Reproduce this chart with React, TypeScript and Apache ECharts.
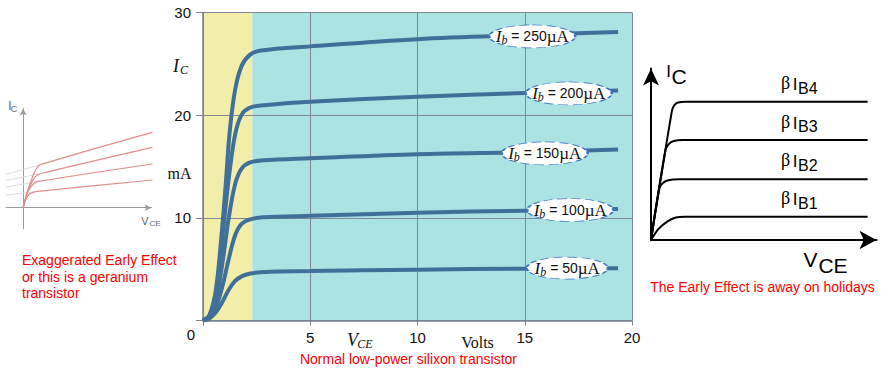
import React, { useEffect, useRef } from 'react';
import * as echarts from 'echarts';

// ---------- Main chart: normal low-power silicon transistor ----------
const vceTicks = [0, 5, 10, 15, 20];
const icTicks = [0, 10, 20, 30];
const baseCurrents = [250, 200, 150, 100, 50];
const ic250 = [[0, 0], [0.3, 0.5], [0.6, 3], [0.85, 8], [1.05, 13], [1.25, 18.5], [1.5, 22.5], [1.8, 24.8], [2.2, 25.9], [2.7, 26.3], [5, 26.7], [10, 27.4], [15, 27.8], [19.35, 28.1]];
const ic200 = [[0, 0], [0.3, 0.5], [0.6, 2.7], [0.85, 7], [1.05, 11], [1.3, 15.5], [1.55, 18.6], [1.85, 20.2], [2.3, 20.8], [3, 21.0], [5, 21.3], [10, 21.8], [15, 22.15], [19.35, 22.4]];
const ic150 = [[0, 0], [0.3, 0.4], [0.6, 2], [0.9, 5.5], [1.2, 10], [1.5, 13.3], [1.8, 14.8], [2.2, 15.4], [2.8, 15.6], [5, 15.8], [10, 16.2], [15, 16.4], [19.35, 16.65]];
const ic100 = [[0, 0], [0.3, 0.3], [0.6, 1.3], [0.9, 3.3], [1.2, 6], [1.5, 8.3], [1.8, 9.4], [2.2, 9.85], [2.8, 10.05], [5, 10.2], [10, 10.5], [15, 10.7], [19.35, 10.85]];
const ic50 = [[0, 0], [0.3, 0.2], [0.6, 0.8], [0.9, 1.8], [1.2, 3.0], [1.5, 3.85], [1.8, 4.3], [2.2, 4.58], [2.8, 4.72], [3.5, 4.78], [5, 4.82], [10, 4.95], [15, 5.05], [19.35, 5.1]];
const labelAnchors = [[15.35, 27.67], [17.05, 22.12], [15.93, 16.28], [17.12, 10.76], [16.98, 5.11]];
const saturationRegion = [0, 2.3];
const activeRegion = [2.3, 20];

// ---------- Left sketch: exaggerated Early effect ----------
const early1 = [[0, 0], [0.35, 1.3], [0.75, 2.4], [1.05, 3.0], [1.35, 3.25], [9.8, 5.66]];
const early2 = [[0, 0], [0.3, 1.1], [0.65, 1.9], [0.95, 2.35], [1.3, 2.55], [9.8, 4.53]];
const early3 = [[0, 0], [0.25, 0.9], [0.5, 1.45], [0.8, 1.8], [1.15, 1.97], [9.8, 3.28]];
const early4 = [[0, 0], [0.2, 0.6], [0.45, 1.0], [0.75, 1.15], [1.1, 1.22], [9.8, 2.08]];
const ghost1 = [[-1.3, 2.5], [1.35, 3.25]];
const ghost2 = [[-1.3, 2.05], [1.3, 2.55]];
const ghost3 = [[-1.3, 1.55], [1.15, 1.97]];
const ghost4 = [[-1.3, 0.95], [1.1, 1.22]];

// ---------- Right sketch: ideal (no Early effect) ----------
const ideal4 = [[0, 0], [0.97, 7.2], [1.08, 7.5], [1.25, 7.64], [1.6, 7.68], [10, 7.68]];
const ideal3 = [[0, 0], [0.67, 5.0], [0.82, 5.33], [1.05, 5.5], [1.45, 5.56], [10, 5.56]];
const ideal2 = [[0, 0], [0.39, 2.89], [0.55, 3.17], [0.8, 3.32], [1.3, 3.37], [10, 3.37]];
const ideal1 = [[0, 0], [0.35, 0.62], [0.75, 1.02], [1.15, 1.25], [1.6, 1.29], [10, 1.29]];
const idealLabels = ['B4', 'B3', 'B2', 'B1'];

const txt = (x: number, y: number, text: string, font: string, fill: string, align = 'center', vAlign = 'middle') => ({
  type: 'text',
  x,
  y,
  silent: true,
  style: { text, font, fill, textAlign: align, textVerticalAlign: vAlign, align, verticalAlign: vAlign },
});

export default function App() {
  const ref = useRef<HTMLDivElement>(null);
  useEffect(() => {
    const chart = echarts.init(ref.current!, null, { renderer: 'svg' });
    const blue = '#40709a';
    const gridGrey = '#7f8894';
    const ellipse = 'path://M50,0 C77.6,0 100,22.4 100,50 C100,77.6 77.6,100 50,100 C22.4,100 0,77.6 0,50 C0,22.4 22.4,0 50,0 Z';
    const mainCurves = [ic250, ic200, ic150, ic100, ic50];
    const earlyCurves = [early1, early2, early3, early4];
    const ghosts = [ghost1, ghost2, ghost3, ghost4];
    const idealCurves = [ideal4, ideal3, ideal2, ideal1];
    const labelRowsY = [84.7, 123, 161.3, 199.3];

    const hiddenAxisBits = { axisTick: { show: false }, axisLabel: { show: false }, splitLine: { show: false } };

    const option: any = {
      animation: false,
      backgroundColor: '#ffffff',
      grid: [
        { left: 203, top: 12.5, width: 429, height: 308, outerBoundsMode: 'none' },
        { left: 6, top: 108.5, width: 145.5, height: 120.5, outerBoundsMode: 'none' },
        { left: 651, top: 68.5, width: 225.5, height: 171.5, outerBoundsMode: 'none' },
      ],
      xAxis: [
        {
          gridIndex: 0, type: 'value', min: vceTicks[0], max: vceTicks[vceTicks.length - 1], interval: 5, z: 3,
          axisLine: { show: true, onZero: false, lineStyle: { color: '#7a8290', width: 1.5 } },
          axisTick: { show: true, length: 5, lineStyle: { color: '#7a8290' } },
          axisLabel: { margin: 9, fontSize: 15, color: '#111', fontFamily: 'Liberation Sans', formatter: (v: number) => (v === 0 ? '' : String(v)) },
          splitLine: { show: true, lineStyle: { color: gridGrey, width: 1 } },
        },
        {
          gridIndex: 1, type: 'value', min: -1.3, max: 9.73,
          axisLine: { show: true, onZero: true, symbol: ['none', 'arrow'], symbolSize: [5, 7], lineStyle: { color: '#9a9a9a', width: 1 } },
          ...hiddenAxisBits,
        },
        {
          gridIndex: 2, type: 'value', min: 0, max: 10.41,
          axisLine: { show: true, onZero: true, symbol: ['none', 'arrow'], symbolSize: [14, 17], lineStyle: { color: '#000', width: 2 } },
          ...hiddenAxisBits,
        },
      ],
      yAxis: [
        {
          gridIndex: 0, type: 'value', min: icTicks[0], max: icTicks[icTicks.length - 1], interval: 10, z: 3,
          axisLine: { show: true, onZero: false, lineStyle: { color: '#7a8290', width: 1.5 } },
          axisTick: { show: true, length: 7, lineStyle: { color: '#7a8290' } },
          axisLabel: { margin: 12, fontSize: 15, color: '#111', fontFamily: 'Liberation Sans', formatter: (v: number) => (v === 0 ? '' : String(v)) },
          splitLine: { show: true, lineStyle: { color: gridGrey, width: 1 } },
        },
        {
          gridIndex: 1, type: 'value', min: -1.6, max: 7.45,
          axisLine: { show: true, onZero: true, symbol: ['none', 'arrow'], symbolSize: [5, 7], lineStyle: { color: '#9a9a9a', width: 1 } },
          ...hiddenAxisBits,
        },
        {
          gridIndex: 2, type: 'value', min: 0, max: 9.53,
          axisLine: { show: true, onZero: true, symbol: ['none', 'arrow'], symbolSize: [12, 17], lineStyle: { color: '#000', width: 2 } },
          ...hiddenAxisBits,
        },
      ],
      series: [
        {
          type: 'line', xAxisIndex: 0, yAxisIndex: 0, data: [], z: 1, silent: true,
          markArea: {
            silent: true,
            itemStyle: { opacity: 1 },
            data: [
              [{ xAxis: saturationRegion[0], itemStyle: { color: '#f2eeaa' } }, { xAxis: saturationRegion[1] }],
              [{ xAxis: activeRegion[0], itemStyle: { color: '#abe2e2' } }, { xAxis: activeRegion[1] }],
            ],
          },
        },
        ...mainCurves.map((d) => ({
          type: 'line', xAxisIndex: 0, yAxisIndex: 0, data: d, z: 5, showSymbol: false, smooth: 0.35, silent: true,
          lineStyle: { color: blue, width: 4, cap: 'butt' },
        })),
        {
          type: 'scatter', xAxisIndex: 0, yAxisIndex: 0, z: 6, silent: true,
          symbol: ellipse,
          data: labelAnchors.map((p, i) => ({ value: p, symbolSize: i === 4 ? [81, 22] : [86, 23] })),
          itemStyle: { color: '#ffffff', borderColor: '#3b74c0', borderWidth: 1.3, borderType: 'dashed', opacity: 1 },
          label: {
            show: true, position: 'inside',
            formatter: (p: any) => `{i|I}{s|b}{t| = ${baseCurrents[p.dataIndex]}}{u|µA}`,
            rich: {
              i: { fontFamily: 'Liberation Serif', fontStyle: 'italic', fontSize: 17, color: '#111' },
              s: { fontFamily: 'Liberation Serif', fontStyle: 'italic', fontSize: 12, color: '#111', padding: [8, 0, 0, 0] },
              t: { fontFamily: 'Liberation Sans', fontSize: 14, color: '#111' },
              u: { fontFamily: 'Liberation Serif', fontSize: 17, color: '#111' },
            },
          },
        },
        ...ghosts.map((d) => ({
          type: 'line', xAxisIndex: 1, yAxisIndex: 1, data: d, showSymbol: false, silent: true, clip: false,
          lineStyle: { color: '#dedede', width: 1 },
        })),
        ...earlyCurves.map((d) => ({
          type: 'line', xAxisIndex: 1, yAxisIndex: 1, data: d, showSymbol: false, smooth: 0.3, silent: true, clip: false,
          lineStyle: { color: '#e08c8c', width: 1.2 },
        })),
        ...idealCurves.map((d) => ({
          type: 'line', xAxisIndex: 2, yAxisIndex: 2, data: d, showSymbol: false, smooth: 0.3, silent: true, clip: false,
          lineStyle: { color: '#000', width: 2 },
        })),
      ],
      graphic: [
        // main chart texts
        txt(191, 334, '0', '15px "Liberation Sans"', '#111'),
        txt(176, 66, 'I', 'italic 18px "Liberation Serif"', '#111'),
        txt(184, 70, 'C', 'italic 12px "Liberation Serif"', '#111'),
        txt(179.5, 173, 'mA', '16px "Liberation Serif"', '#111'),
        txt(352.5, 339.7, 'V', 'italic 18px "Liberation Serif"', '#111'),
        txt(365, 344, 'CE', 'italic 12px "Liberation Serif"', '#111'),
        txt(477.5, 342, 'Volts', '16px "Liberation Serif"', '#111'),
        txt(408.5, 359, 'Normal low-power silixon transistor', '14px "Liberation Sans"', '#ff0000'),
        // left sketch texts
        txt(10, 106, 'I', '12px "Liberation Sans"', '#666'),
        txt(14, 108.5, 'C', '9px "Liberation Sans"', '#666'),
        txt(145, 221, 'V', '11px "Liberation Sans"', '#666'),
        txt(149.5, 223.5, 'CE', '8px "Liberation Sans"', '#666', 'left'),
        txt(22, 260, 'Exaggerated Early Effect', '14px "Liberation Sans"', '#ff0000', 'left'),
        txt(22, 276.7, 'or this is a geranium', '14px "Liberation Sans"', '#ff0000', 'left'),
        txt(22, 293.3, 'transistor', '14px "Liberation Sans"', '#ff0000', 'left'),
        // right sketch texts
        txt(668.5, 71, 'I', '17px "Liberation Sans"', '#000'),
        txt(679, 76, 'C', '21px "Liberation Sans"', '#000'),
        txt(810.5, 259, 'V', '21px "Liberation Sans"', '#000'),
        txt(833, 265.5, 'CE', '21px "Liberation Sans"', '#000'),
        ...idealLabels.flatMap((lab, i) => [
          txt(785.5, labelRowsY[i] - 1.5, 'β', '18px "Liberation Serif"', '#000'),
          txt(795, labelRowsY[i], 'I', '17px "Liberation Sans"', '#000'),
          txt(798, labelRowsY[i] + 3.8, lab, '16px "Liberation Sans"', '#000', 'left'),
        ]),
        txt(762.5, 287.3, 'The Early Effect is away on holidays', '14px "Liberation Sans"', '#ff0000'),
      ],
    };
    chart.setOption(option);
    return () => chart.dispose();
  }, []);
  return <div ref={ref} style={{ position: 'fixed', left: 0, top: 0, width: 895, height: 377 }} />;
}
